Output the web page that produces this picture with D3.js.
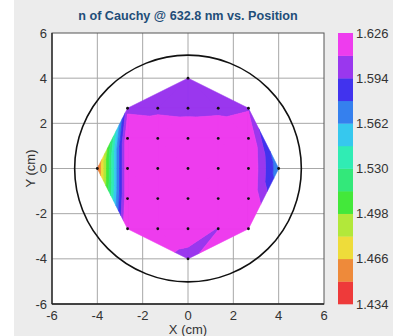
<!DOCTYPE html>
<html><head><meta charset="utf-8">
<script src="https://cdn.jsdelivr.net/npm/d3@7"></script>
<style>body{margin:0;background:#fff}svg{display:block}text{font-family:"Liberation Sans",Arial,sans-serif}</style>
</head><body><svg id="c" width="393" height="336"></svg>
<script>
const gridX = [-2.667, -1.333, 0, 1.333, 2.667];
const gridY = [2.667, 1.333, 0, -1.333, -2.667];
const gridValues = [
  [1.606, 1.604, 1.601, 1.603, 1.608],
  [1.627, 1.632, 1.633, 1.632, 1.628],
  [1.627, 1.634, 1.636, 1.634, 1.630],
  [1.627, 1.633, 1.635, 1.633, 1.628],
  [1.635, 1.625, 1.621, 1.609, 1.640]
];
const edgeX = [0, -4, 4, 0];
const edgeY = [4, 0, 0, -4];
const edgeValues = [1.600, 1.442, 1.566, 1.603];
const bandThresholds = [1.434,1.45,1.466,1.482,1.498,1.514,1.53,1.546,1.562,1.578,1.594,1.61,1.626];
const bandColors = ["#ee3a3a","#ee8a3a","#eedc3a","#b2e83a","#43e83a","#33e87a","#30ecb4","#36c8ee","#3580ee","#4133ee","#9a37ee","#ee3cee"];
const colorbarTicks = [1.434,1.466,1.498,1.530,1.562,1.594,1.626];
const axisTicks = [-6,-4,-2,0,2,4,6];
const waferRadius = 5;

const svg = d3.select("#c");
svg.append("rect").attr("x",14).attr("y",0).attr("width",379).attr("height",336).attr("fill","#ececec");

const x = d3.scaleLinear().domain([-6,6]).range([52,324]);
const y = d3.scaleLinear().domain([-6,6]).range([304,33]);

svg.append("rect").attr("x",x(-6)).attr("y",y(6)).attr("width",x(6)-x(-6)).attr("height",y(-6)-y(6)).attr("fill","#fff");

// grid
const g = svg.append("g");
axisTicks.slice(1,-1).forEach(t=>{
  g.append("line").attr("x1",x(t)).attr("x2",x(t)).attr("y1",y(6)).attr("y2",y(-6)).attr("stroke","#a8a8a8").attr("stroke-width",1);
  g.append("line").attr("y1",y(t)).attr("y2",y(t)).attr("x1",x(-6)).attr("x2",x(6)).attr("stroke","#a8a8a8").attr("stroke-width",1);
});

// points
const pts = [];
gridY.forEach((yy,i)=>gridX.forEach((xx,j)=>pts.push([xx,yy,gridValues[i][j]])));
edgeX.forEach((xx,i)=>pts.push([xx,edgeY[i],edgeValues[i]]));

const del = d3.Delaunay.from(pts, d=>d[0], d=>d[1]);
function clip(poly, level, above){
  const out=[];
  for(let i=0;i<poly.length;i++){
    const a=poly[i], b=poly[(i+1)%poly.length];
    const ina = above ? a[2]>=level : a[2]<=level;
    const inb = above ? b[2]>=level : b[2]<=level;
    if(ina) out.push(a);
    if(ina!==inb){
      const t=(level-a[2])/(b[2]-a[2]);
      out.push([a[0]+t*(b[0]-a[0]), a[1]+t*(b[1]-a[1]), level]);
    }
  }
  return out;
}
const bandPaths = bandColors.map(()=>[]);
const tri = del.triangles;
for(let k=0;k<tri.length;k+=3){
  const T=[pts[tri[k]],pts[tri[k+1]],pts[tri[k+2]]];
  for(let b=0;b<bandColors.length;b++){
    let p=T;
    if(b>0) p=clip(p,bandThresholds[b],true);
    if(p.length>2 && b<bandColors.length-1) p=clip(p,bandThresholds[b+1],false);
    if(p.length>2) bandPaths[b].push("M"+p.map(q=>x(q[0]).toFixed(2)+","+y(q[1]).toFixed(2)).join("L")+"Z");
  }
}
const fillG = svg.append("g");
bandPaths.forEach((arr,b)=>{
  if(!arr.length) return;
  fillG.append("path").attr("d",arr.join("")).attr("fill",bandColors[b]).attr("stroke",bandColors[b])
    .attr("stroke-width",0.7).attr("stroke-linejoin","round");
});

// wafer circle
svg.append("circle").attr("cx",x(0)).attr("cy",y(0)).attr("r",x(waferRadius)-x(0)).attr("fill","none").attr("stroke","#111").attr("stroke-width",1.6);

svg.append("g").selectAll("circle").data(pts).join("circle").attr("cx",d=>x(d[0])).attr("cy",d=>y(d[1])).attr("r",1.4).attr("fill","#111");

// border
svg.append("rect").attr("x",x(-6)).attr("y",y(6)).attr("width",x(6)-x(-6)).attr("height",y(-6)-y(6)).attr("fill","none").attr("stroke","#555").attr("stroke-width",1);
svg.append("line").attr("x1",x(-6)).attr("x2",x(-6)).attr("y1",y(6)).attr("y2",y(-6)).attr("stroke","#222").attr("stroke-width",1.3);
svg.append("line").attr("x1",x(-6)).attr("x2",x(6)).attr("y1",y(-6)).attr("y2",y(-6)).attr("stroke","#222").attr("stroke-width",1.3);

// tick labels
svg.append("g").selectAll("text").data(axisTicks).join("text").attr("x",d=>x(d)).attr("y",320).attr("text-anchor","middle").attr("font-size",13).attr("fill","#333").text(d=>d);
svg.append("g").selectAll("text").data(axisTicks).join("text").attr("x",47).attr("y",d=>y(d)+4.5).attr("text-anchor","end").attr("font-size",13).attr("fill","#333").text(d=>d);
svg.append("text").attr("x",x(0)).attr("y",334).attr("text-anchor","middle").attr("font-size",13).attr("fill","#333").text("X (cm)");
svg.append("text").attr("transform","translate(35,"+y(0)+") rotate(-90)").attr("text-anchor","middle").attr("font-size",13).attr("fill","#333").text("Y (cm)");
svg.append("text").attr("x",x(0)).attr("y",20).attr("text-anchor","middle").attr("font-size",12.6).attr("font-weight","bold").attr("fill","#1f4e79").text("n of Cauchy @ 632.8 nm vs. Position");

// colorbar
const cy = d3.scaleLinear().domain([1.434,1.626]).range([304,33]);
const cb = svg.append("g");
cb.selectAll("rect").data(bandColors).join("rect").attr("x",338).attr("width",15)
  .attr("y",(d,i)=>cy(bandThresholds[i+1])).attr("height",(d,i)=>cy(bandThresholds[i])-cy(bandThresholds[i+1])+0.3).attr("fill",d=>d);
cb.selectAll("text").data(colorbarTicks).join("text").attr("x",356).attr("y",d=>cy(d)+4.5).attr("font-size",13).attr("fill","#333").text(d=>d3.format(".3f")(d));
</script></body></html>
